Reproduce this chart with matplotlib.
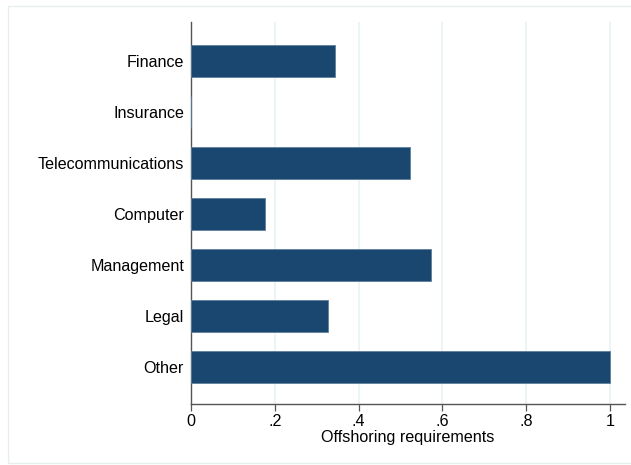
import numpy as np
import matplotlib.pyplot as plt
from matplotlib.patches import Rectangle

# Offshoring requirements by sector
sectores = ["Finance", "Insurance", "Telecommunications", "Computer",
            "Management", "Legal", "Other"]
valores = [0.344, 0.0, 0.523, 0.177, 0.573, 0.327, 1.0]
ticks_x = [0, 0.2, 0.4, 0.6, 0.8, 1.0]
etiquetas_x = ["0", ".2", ".4", ".6", ".8", "1"]

plt.rcParams["font.family"] = ["Liberation Sans", "DejaVu Sans"]

fig = plt.figure(figsize=(6.31, 4.65), dpi=100)
ax = fig.add_axes([191 / 631, 1 - 404 / 465, 434 / 631, 382 / 465])

# marco exterior claro
fig.patches.append(Rectangle((8 / 631, 2 / 465), 640 / 631, 457 / 465,
                             transform=fig.transFigure, fill=False,
                             edgecolor="#e6eeef", linewidth=1.0))

y = np.arange(len(sectores))
ax.barh(y, valores, height=0.62, color="#1a476f",
        edgecolor="#5d7f9c", linewidth=0.6, zorder=3)

ax.set_ylim(6.725, -0.765)
ax.set_xlim(0, 1.036)
ax.set_yticks(y)
ax.set_yticklabels(sectores, fontsize=11.6)
ax.set_xticks(ticks_x)
ax.set_xticklabels(etiquetas_x, fontsize=11.6)
ax.set_xlabel("Offshoring requirements", fontsize=11.6, labelpad=1)

ax.grid(axis="x", color="#eaf2f3", linewidth=1.2, zorder=0)
ax.tick_params(axis="y", length=0, pad=5)
ax.tick_params(axis="x", length=5, width=0.9, color="#555555", pad=2)

for lado in ["top", "right"]:
    ax.spines[lado].set_visible(False)
for lado in ["left", "bottom"]:
    ax.spines[lado].set_color("#555555")
    ax.spines[lado].set_linewidth(1.0)

fig.savefig("out.png", dpi=100)
